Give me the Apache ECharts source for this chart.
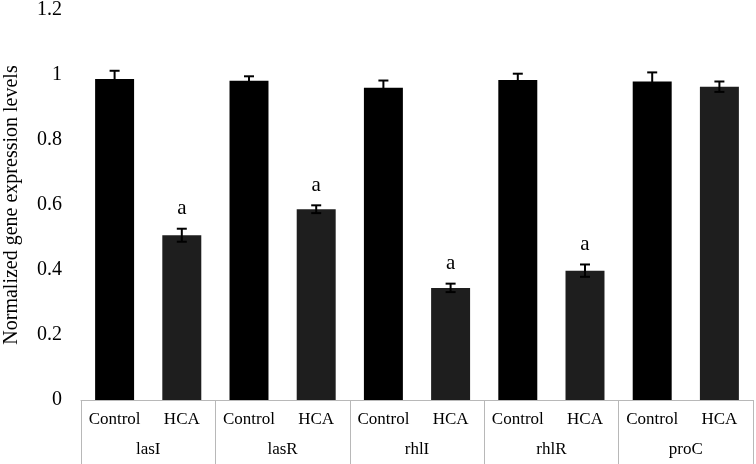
<!DOCTYPE html>
<html>
<head>
<meta charset="utf-8">
<script src="https://cdn.jsdelivr.net/npm/echarts@6/dist/echarts.min.js"></script>
<style>html,body{margin:0;padding:0;background:#fff}#c{width:756px;height:464px}</style>
</head>
<body>
<div id="c"></div>
<script>
var genes = ['lasI', 'lasR', 'rhlI', 'rhlR', 'proC'];
var treatments = ['Control', 'HCA'];
var controlValues = [0.988, 0.982, 0.961, 0.985, 0.980];
var controlErrors = [0.025, 0.014, 0.022, 0.019, 0.028];
var hcaValues = [0.507, 0.587, 0.345, 0.398, 0.964];
var hcaErrors = [0.020, 0.012, 0.013, 0.019, 0.016];
var hcaMarks = ['a', 'a', 'a', 'a', ''];
var yTicks = [0, 0.2, 0.4, 0.6, 0.8, 1, 1.2];

var cats = [], barData = [], errData = [];
genes.forEach(function (g, i) {
  cats.push(treatments[0]); cats.push(treatments[1]);
  barData.push({ value: controlValues[i], itemStyle: { color: '#000000' } });
  barData.push({ value: hcaValues[i], itemStyle: { color: '#1e1e1e' } });
  errData.push([2 * i, controlValues[i] - controlErrors[i], controlValues[i] + controlErrors[i], '']);
  errData.push([2 * i + 1, hcaValues[i] - hcaErrors[i], hcaValues[i] + hcaErrors[i], hcaMarks[i]]);
});

var font = 'Liberation Serif';
var chart = echarts.init(document.getElementById('c'));
chart.setOption({
  animation: false,
  grid: { left: 81, right: 3, top: 10, bottom: 64, outerBoundsMode: 'none', containLabel: false },
  xAxis: [{
    type: 'category', data: cats, position: 'bottom',
    axisLine: { show: false }, axisTick: { show: false },
    axisLabel: { color: '#000', fontFamily: font, fontSize: 17, margin: 11, interval: 0 }
  }, {
    type: 'category', data: genes, position: 'bottom',
    axisLine: { show: true, lineStyle: { color: '#b8b8b8', width: 1 } },
    axisTick: { show: true, length: 64, lineStyle: { color: '#b8b8b8', width: 1 } },
    axisLabel: { color: '#000', fontFamily: font, fontSize: 17, margin: 41, interval: 0 }
  }],
  yAxis: {
    type: 'value', min: 0, max: 1.2, interval: 0.2,
    name: 'Normalized gene expression levels', nameLocation: 'middle', nameGap: 59,
    nameTextStyle: { color: '#000', fontFamily: font, fontSize: 20 },
    axisLine: { show: false }, axisTick: { show: false }, splitLine: { show: false },
    axisLabel: {
      color: '#000', fontFamily: font, fontSize: 20, margin: 19,
      formatter: function (v) { var r = Math.round(v * 10) / 10; return yTicks.indexOf(r) >= 0 ? String(r) : ''; }
    }
  },
  series: [{
    type: 'bar', xAxisIndex: 0, data: barData, barWidth: '58%'
  }, {
    type: 'custom', xAxisIndex: 0, data: errData, z: 10,
    renderItem: function (params, api) {
      var x = api.value(0);
      var lo = api.coord([x, api.value(1)]);
      var hi = api.coord([x, api.value(2)]);
      var cap = 5;
      var st = { stroke: '#000', lineWidth: 2 };
      var children = [
        { type: 'line', shape: { x1: lo[0], y1: lo[1], x2: hi[0], y2: hi[1] }, style: st },
        { type: 'line', shape: { x1: hi[0] - cap, y1: hi[1], x2: hi[0] + cap, y2: hi[1] }, style: st },
        { type: 'line', shape: { x1: lo[0] - cap, y1: lo[1], x2: lo[0] + cap, y2: lo[1] }, style: st }
      ];
      var mark = api.value(3);
      if (mark) {
        children.push({ type: 'text', x: hi[0], y: hi[1] - 20,
          style: { text: mark, fill: '#000', font: '21px "Liberation Serif"', align: 'center', verticalAlign: 'middle' } });
      }
      return { type: 'group', children: children };
    }
  }]
});
</script>
</body>
</html>
